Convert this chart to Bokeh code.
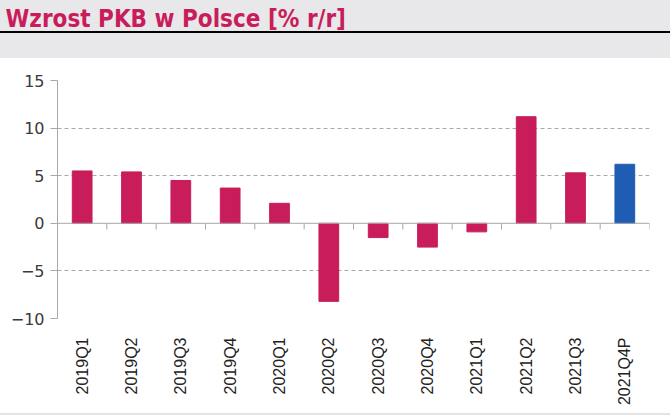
import math
from bokeh.plotting import figure
from bokeh.models import Range1d, FixedTicker, Span, ColumnDataSource, Title
from bokeh.embed import file_html
from bokeh.resources import INLINE

# ---- data ----
quarters = ["2019Q1", "2019Q2", "2019Q3", "2019Q4", "2020Q1", "2020Q2",
            "2020Q3", "2020Q4", "2021Q1", "2021Q2", "2021Q3", "2021Q4P"]
gdp_growth = [5.5, 5.4, 4.5, 3.7, 2.1, -8.2, -1.5, -2.5, -0.9, 11.2, 5.3, 6.2]
is_forecast = [False] * 11 + [True]
y_ticks = [-10, -5, 0, 5, 10, 15]
title_text = "Wzrost PKB w Polsce [% r/r]"

PINK = "#c81d5a"
BLUE = "#1f5db4"
GREY_BG = "#e8e8ea"
AXIS_GREY = "#a8a8a8"

W, H = 670, 416

n = len(quarters)
xs = [i + 0.5 for i in range(n)]
colors = [BLUE if f else PINK for f in is_forecast]
src = ColumnDataSource(dict(x=xs, top=gdp_growth, color=colors))

p = figure(width=W, height=H, x_range=Range1d(0, n), y_range=Range1d(-10, 15),
           output_backend="svg", toolbar_location=None,
           min_border_left=57, min_border_right=21, min_border_top=80, min_border_bottom=98)
p.outline_line_color = None
p.background_fill_color = "white"
p.border_fill_color = None
p.styles = {
    "background": ("linear-gradient(to bottom, %s 0px, %s 31px, #000 31px, #000 33px, "
                   "%s 33px, %s 58px, #fff 58px, #fff 413px, #e4e4e4 413px, #e4e4e4 415px, #fff 415px)")
                  % (GREY_BG, GREY_BG, GREY_BG, GREY_BG)
}

# spacer panel between the title and the plot frame
p.add_layout(Title(text=" ", text_font_size="1px", standoff=45), "above")

# title (outermost panel)
p.title.text = title_text
p.title.align = "left"
p.title.offset = -52
p.title.standoff = 0
p.title.text_color = PINK
p.title.text_font = "DejaVu Sans Condensed"
p.title.text_font_size = "24px"
p.title.text_font_style = "bold"

p.vbar(x="x", top="top", bottom=0, width=0.4, color="color", source=src)

# y axis
p.yaxis.ticker = FixedTicker(ticks=y_ticks)
p.yaxis.axis_line_color = AXIS_GREY
p.yaxis.major_tick_line_color = AXIS_GREY
p.yaxis.major_tick_out = 7
p.yaxis.major_tick_in = 0
p.yaxis.minor_tick_line_color = None
p.yaxis.major_label_text_font = "DejaVu Sans"
p.yaxis.major_label_text_font_size = "16px"
p.yaxis.major_label_text_color = "#3a3a3a"
p.yaxis.major_label_standoff = 6

p.ygrid.ticker = FixedTicker(ticks=[t for t in y_ticks if t != 0])
p.ygrid.grid_line_color = AXIS_GREY
p.ygrid.grid_line_dash = "4 3"
p.xgrid.visible = False

# x axis (labels only)
p.xaxis.ticker = FixedTicker(ticks=xs)
p.xaxis.major_label_overrides = {x: q for x, q in zip(xs, quarters)}
p.xaxis.major_label_orientation = math.pi / 2
p.xaxis.axis_line_color = None
p.xaxis.major_tick_line_color = None
p.xaxis.minor_tick_line_color = None
p.xaxis.major_label_text_font = "Liberation Sans"
p.xaxis.major_label_text_font_size = "16px"
p.xaxis.major_label_text_color = "#222222"
p.xaxis.major_label_standoff = 13

# zero line with category-boundary ticks
p.add_layout(Span(location=0, dimension="width", line_color=AXIS_GREY, line_width=1))
bounds = list(range(1, n + 1))
p.segment(x0=bounds, y0=[0] * n, x1=bounds, y1=[-0.65] * n, line_color=AXIS_GREY, line_width=1)

open("out.html", "w").write(file_html(p, INLINE))
